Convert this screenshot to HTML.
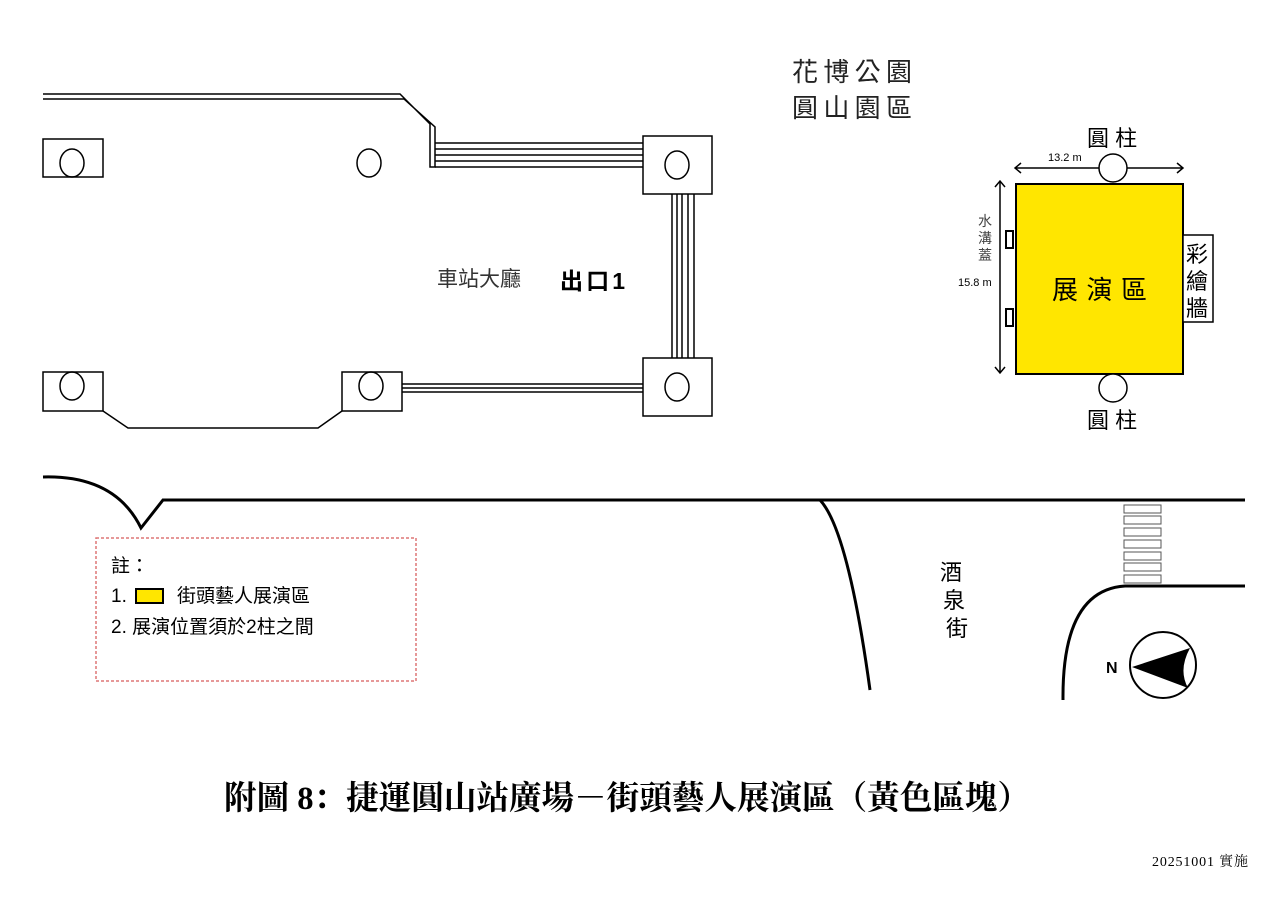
<!DOCTYPE html>
<html><head><meta charset="utf-8"><style>
body{margin:0;background:#fff;width:1287px;height:907px;overflow:hidden}
svg{display:block}
text{font-family:"Liberation Sans","Noto Sans CJK TC",sans-serif}
</style></head><body>
<svg width="1287" height="907" viewBox="0 0 1287 907" xmlns="http://www.w3.org/2000/svg">
<g fill="none" stroke="#000" stroke-width="1.5">
<path d="M43 94 H400 L430 124 V167 H435 V127 L404 99 H43"/>
<path d="M435 143 H643 M435 149 H643 M435 155 H643 M435 161 H643 M435 167 H643"/>
<rect x="643" y="136" width="69" height="58"/><ellipse cx="677" cy="165" rx="12" ry="14"/>
<path d="M672 194 V358 M677 194 V358 M682 194 V358 M688 194 V358 M694 194 V358"/>
<rect x="643" y="358" width="69" height="58"/><ellipse cx="677" cy="387" rx="12" ry="14"/>
<path d="M402 384 H643 M402 388 H643 M402 392 H643"/>
<rect x="342" y="372" width="60" height="39"/><ellipse cx="371" cy="386" rx="12" ry="14"/>
<rect x="43" y="372" width="60" height="39"/><ellipse cx="72" cy="386" rx="12" ry="14"/>
<path d="M103 411 L128 428 H318 L342 411"/>
<rect x="43" y="139" width="60" height="38"/><ellipse cx="72" cy="163" rx="12" ry="14"/>
<ellipse cx="369" cy="163" rx="12" ry="14"/>
</g>
<g fill="none" stroke="#000" stroke-width="3">
<path d="M43 477 Q115 475 141 528 L163 500 H1245"/>
<path d="M820 500 Q848 530 870 690"/>
<path d="M1245 586 H1125 Q1062 590 1063 700"/>
</g>
<g fill="#fff" stroke="#555" stroke-width="1">
<rect x="1124" y="505" width="37" height="8"/><rect x="1124" y="516" width="37" height="8"/>
<rect x="1124" y="528" width="37" height="8"/><rect x="1124" y="540" width="37" height="8"/>
<rect x="1124" y="552" width="37" height="8"/><rect x="1124" y="563" width="37" height="8"/>
<rect x="1124" y="575" width="37" height="8"/>
</g>
<circle cx="1163" cy="665" r="33" fill="#fff" stroke="#000" stroke-width="2"/>
<path d="M1132 667 L1190 648 Q1178 670 1188 688 Z" fill="#000"/>
<text x="1106" y="673" font-size="16" font-weight="bold">N</text>
<text x="940" y="580" font-size="22">酒</text>
<text x="943" y="608" font-size="22">泉</text>
<text x="946" y="636" font-size="22">街</text>
<rect x="96" y="538" width="320" height="143" fill="none" stroke="#d77" stroke-width="1.5" stroke-dasharray="3,2"/>
<text x="111" y="572" font-size="19">註：</text>
<text x="111" y="602" font-size="19">1.</text>
<rect x="136" y="589" width="27" height="14" fill="#ffe600" stroke="#000" stroke-width="2"/>
<text x="177" y="602" font-size="19">街頭藝人展演區</text>
<text x="111" y="633" font-size="19">2. 展演位置須於2柱之間</text>
<text x="437" y="286" font-size="21" fill="#333">車站大廳</text>
<text x="560" y="289" font-size="23" font-weight="bold" textLength="65">出口1</text>
<text x="792" y="81" font-size="26" fill="#222" textLength="120">花博公園</text>
<text x="792" y="117" font-size="26" fill="#222" textLength="120">圓山園區</text>
<rect x="1016" y="184" width="167" height="190" fill="#ffe600" stroke="#000" stroke-width="2"/>
<g stroke="#000" stroke-width="1.5" fill="none">
<path d="M1015 168 H1183 M1021 163 L1015 168 L1021 173 M1177 163 L1183 168 L1177 173"/>
<path d="M1000 181 V373 M995 187 L1000 181 L1005 187 M995 367 L1000 373 L1005 367"/>
</g>
<circle cx="1113" cy="168" r="14" fill="#fff" stroke="#000" stroke-width="1.5"/>
<circle cx="1113" cy="388" r="14" fill="#fff" stroke="#000" stroke-width="1.5"/>
<rect x="1006" y="231" width="7" height="17" fill="#fff" stroke="#000" stroke-width="2"/>
<rect x="1006" y="309" width="7" height="17" fill="#fff" stroke="#000" stroke-width="2"/>
<rect x="1183" y="235" width="30" height="87" fill="#fff" stroke="#000" stroke-width="1.5"/>
<text x="1087" y="146" font-size="22">圓 柱</text>
<text x="1087" y="428" font-size="22">圓 柱</text>
<text x="1048" y="161" font-size="11">13.2 m</text>
<text x="958" y="286" font-size="11">15.8 m</text>
<text x="978" y="226" font-size="14" fill="#444">水</text>
<text x="978" y="243" font-size="14" fill="#444">溝</text>
<text x="978" y="260" font-size="14" fill="#444">蓋</text>
<text x="1052" y="299" font-size="26" textLength="95">展演區</text>
<text x="1186" y="262" font-size="22">彩</text>
<text x="1186" y="289" font-size="22">繪</text>
<text x="1186" y="316" font-size="22">牆</text>
<text x="224" y="809" font-size="33" textLength="806" lengthAdjust="spacingAndGlyphs" style="font-family:'Liberation Serif','Noto Serif CJK SC',serif;font-weight:bold">附圖 8：捷運圓山站廣場－街頭藝人展演區（黃色區塊）</text>
<text x="1152" y="866" font-size="14" textLength="96" style="font-family:'Liberation Serif','Noto Serif CJK SC',serif">20251001 實施</text>
</svg>
</body></html>
